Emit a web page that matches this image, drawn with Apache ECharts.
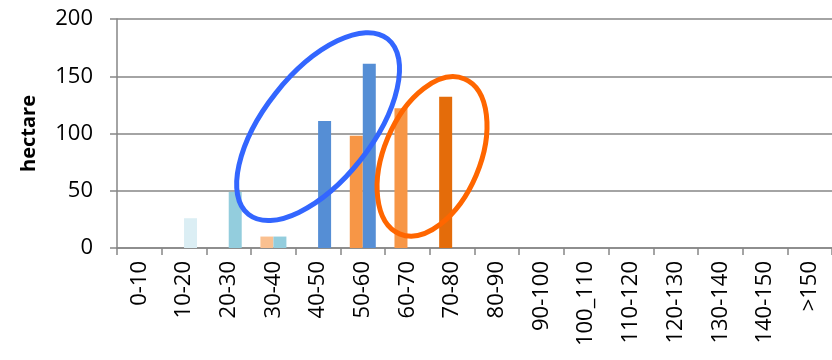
<!DOCTYPE html>
<html><head><meta charset="utf-8">
<script src="https://cdn.jsdelivr.net/npm/echarts@6/dist/echarts.min.js"></script>
<style>html,body{margin:0;padding:0;background:#fff}#c{width:832px;height:360px}</style>
</head><body><div id="c"></div>
<script>
var categories = ['0-10','10-20','20-30','30-40','40-50','50-60','60-70','70-80','80-90','90-100','100_110','110-120','120-130','130-140','140-150','>150'];
var seriesA = [null,null,null,10,null,98,122,132,null,null,null,null,null,null,null,null];
var seriesB = [null,26,49,10,111,161,null,null,null,null,null,null,null,null,null,null];
var colorsA = ['#F79646','#F79646','#F79646','#FAC090','#F79646','#F79646','#F79646','#E46C0A','#F79646','#F79646','#F79646','#F79646','#F79646','#F79646','#F79646','#F79646'];
var colorsB = ['#558ED5','#DBEEF4','#93CDDD','#93CDDD','#558ED5','#558ED5','#558ED5','#558ED5','#558ED5','#558ED5','#558ED5','#558ED5','#558ED5','#558ED5','#558ED5','#558ED5'];
var yTicks = {min:0, max:200, interval:50};
var axisName = 'hectare';

var font = 'Open Sans';
var chart = echarts.init(document.getElementById('c'), null, {renderer:'canvas'});
function mk(vals, cols){ return vals.map(function(v,i){ return {value:v, itemStyle:{color:cols[i]}}; }); }
chart.setOption({
  animation:false,
  grid:{left:117, top:19, width:717, height:229, containLabel:false},
  xAxis:{type:'category', data:categories,
    axisLine:{lineStyle:{color:'#868686', width:1.5}},
    axisTick:{show:true, length:7, alignWithLabel:false, lineStyle:{color:'#868686', width:1.5}},
    axisLabel:{rotate:90, interval:0, color:'#000', fontFamily:font, fontSize:22, margin:13}
  },
  yAxis:{type:'value', min:yTicks.min, max:yTicks.max, interval:yTicks.interval,
    name:axisName, nameLocation:'middle', nameGap:78, nameRotate:90,
    nameTextStyle:{fontFamily:font, fontSize:20, fontWeight:'bold', color:'#000'},
    axisLine:{show:true, lineStyle:{color:'#868686', width:1.5}},
    axisTick:{show:true, length:7, lineStyle:{color:'#868686', width:1.5}},
    splitLine:{lineStyle:{color:'#868686', width:1.5}},
    axisLabel:{color:'#000', fontFamily:font, fontSize:22, margin:24}
  },
  series:[
    {type:'bar', data:mk(seriesA, colorsA), barWidth:13, barGap:'0%'},
    {type:'bar', data:mk(seriesB, colorsB), barWidth:13, barGap:'0%'}
  ]
});
// annotation ellipses anchored to data coordinates
var p1 = chart.convertToPixel({gridIndex:0}, [4, 106]);
var pa = chart.convertToPixel({gridIndex:0}, [6, 80]);
var pb = chart.convertToPixel({gridIndex:0}, [7, 80]);
var p2 = [pa[0] + (pb[0]-pa[0])*0.55, pa[1]];
chart.setOption({graphic:[
  {type:'ellipse', x:p1[0], y:p1[1], rotation:51.6*Math.PI/180, shape:{cx:0, cy:0, rx:112, ry:54},
   style:{fill:null, stroke:'#3366FF', lineWidth:5}, z:100},
  {type:'ellipse', x:p2[0], y:p2[1], rotation:67.2*Math.PI/180, shape:{cx:0, cy:0, rx:84, ry:48},
   style:{fill:null, stroke:'#FF6600', lineWidth:5}, z:100}
]});
</script></body></html>
